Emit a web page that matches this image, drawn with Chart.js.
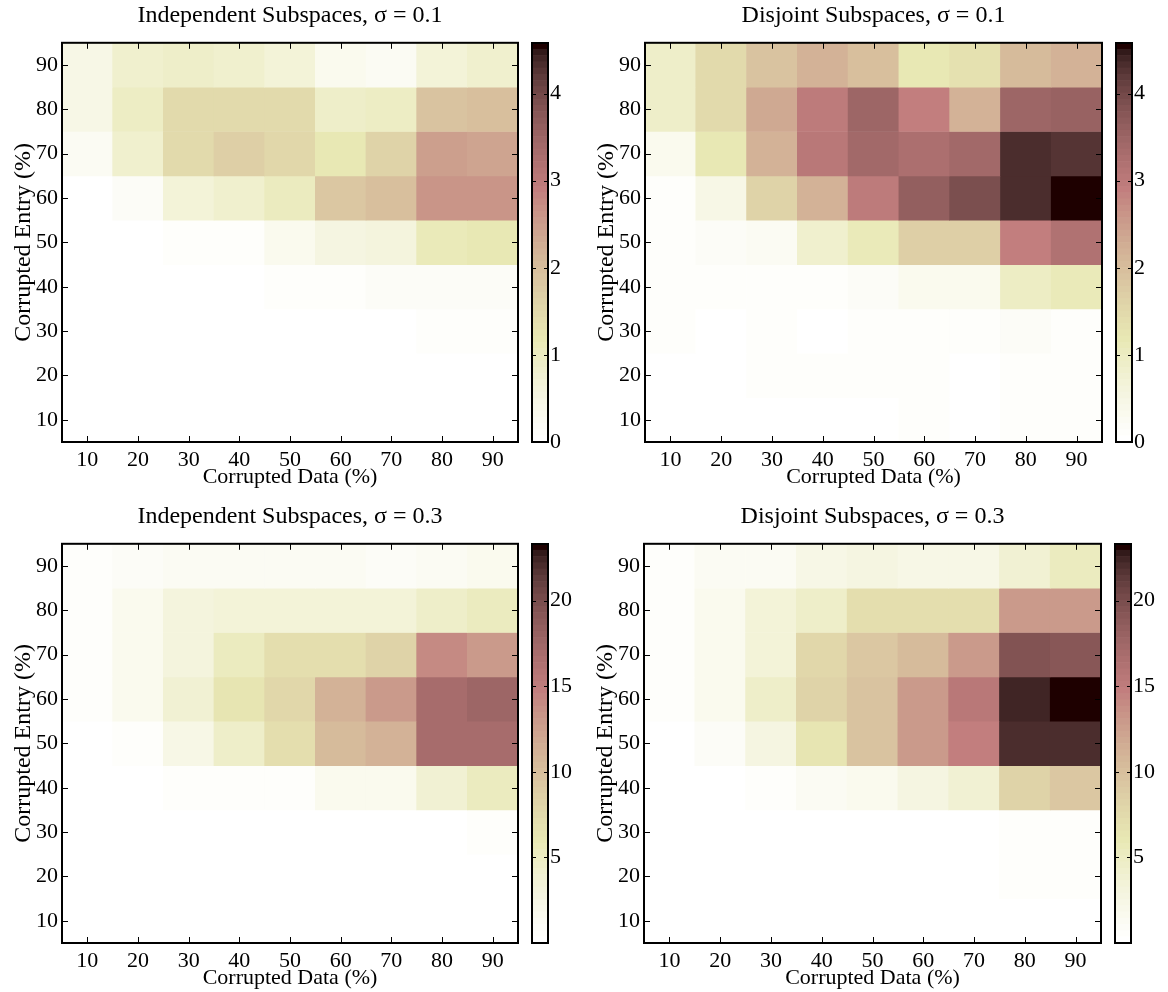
<!DOCTYPE html>
<html>
<head>
<meta charset="utf-8">
<script src="https://cdn.jsdelivr.net/npm/chart.js@4.4.0/dist/chart.umd.min.js"></script>
<style>
  body { margin: 0; background: #fff; }
  #wrap { position: relative; width: 1168px; height: 992px; }
  canvas { position: absolute; }
</style>
</head>
<body>
<div id="wrap"></div>
<script>
// Ejes: columnas = datos corruptos, filas = entradas corruptas (de arriba a abajo)
const corruptedData = ["10", "20", "30", "40", "50", "60", "70", "80", "90"];
const corruptedEntry = [90, 80, 70, 60, 50, 40, 30, 20, 10];
const entryTicks = [10, 20, 30, 40, 50, 60, 70, 80, 90];

// Escalas de color compartidas por fila de paneles
const rangeS01 = [0, 4.58];
const rangeS03 = [0, 23.3];
const cbarTicksS01 = [0, 1, 2, 3, 4];
const cbarTicksS03 = [5, 10, 15, 20];

// Error por celda, fila 90 arriba ... fila 10 abajo
const indepS01 = [
  [0.45, 0.8, 0.9, 0.8, 0.7, 0.3, 0.22, 0.7, 0.8],
  [0.45, 1.0, 1.5, 1.5, 1.5, 0.9, 1.0, 1.9, 1.95],
  [0.25, 0.8, 1.5, 1.7, 1.55, 1.15, 1.6, 2.45, 2.4],
  [0, 0.2, 0.7, 0.8, 1.05, 1.85, 1.95, 2.6, 2.6],
  [0, 0, 0.1, 0.13, 0.35, 0.55, 0.6, 1.1, 1.2],
  [0, 0, 0, 0, 0.12, 0.1, 0.15, 0.2, 0.2],
  [0, 0, 0, 0, 0, 0, 0, 0.1, 0.1],
  [0, 0, 0, 0, 0, 0, 0, 0, 0],
  [0, 0, 0, 0, 0, 0, 0, 0, 0]
];
const disjS01 = [
  [0.9, 1.45, 1.9, 2.2, 1.95, 1.2, 1.35, 2.05, 2.2],
  [0.9, 1.5, 2.3, 3.0, 3.45, 2.9, 2.2, 3.5, 3.55],
  [0.35, 1.15, 2.2, 3.05, 3.4, 3.25, 3.4, 4.35, 4.25],
  [0.12, 0.45, 1.6, 2.2, 2.95, 3.6, 3.9, 4.3, 4.58],
  [0.08, 0.18, 0.22, 0.8, 1.1, 1.7, 1.7, 2.9, 3.2],
  [0.08, 0.08, 0.1, 0.1, 0.15, 0.3, 0.3, 1.0, 1.1],
  [0.1, 0, 0.08, 0, 0.08, 0.08, 0.08, 0.18, 0.12],
  [0, 0, 0.08, 0.08, 0.08, 0.08, 0, 0.12, 0.12],
  [0, 0, 0, 0, 0, 0.08, 0, 0.1, 0.08]
];
const indepS03 = [
  [0.7, 0.9, 1.1, 1.4, 1.4, 1.4, 1.0, 1.4, 1.8],
  [0.7, 1.6, 3.0, 3.3, 3.3, 3.3, 3.3, 4.7, 5.1],
  [0.7, 1.8, 3.2, 5.1, 7.0, 7.0, 8.2, 14.0, 12.8],
  [0.7, 1.6, 4.0, 6.5, 7.7, 11.0, 12.8, 17.0, 17.5],
  [0, 0.7, 2.3, 4.7, 7.0, 10.5, 11.2, 17.0, 17.0],
  [0, 0, 0.5, 0.5, 0.7, 1.6, 1.8, 4.0, 5.1],
  [0, 0, 0, 0, 0, 0, 0, 0, 0.4],
  [0, 0, 0, 0, 0, 0, 0, 0, 0],
  [0, 0, 0, 0, 0, 0, 0, 0, 0]
];
const disjS03 = [
  [0.7, 1.1, 1.4, 2.3, 2.8, 2.3, 2.3, 4.0, 5.1],
  [0.7, 1.6, 3.5, 4.7, 7.0, 7.0, 7.0, 12.8, 12.8],
  [0.7, 1.8, 3.5, 7.7, 9.3, 10.5, 12.8, 19.6, 19.0],
  [0.7, 1.8, 4.7, 8.2, 9.8, 12.8, 15.6, 22.4, 23.3],
  [0, 0.9, 2.8, 6.3, 9.8, 12.8, 14.7, 22.0, 22.0],
  [0, 0, 0.5, 1.1, 1.8, 2.8, 4.0, 8.2, 9.3],
  [0, 0, 0, 0, 0, 0, 0, 0.6, 0.6],
  [0, 0, 0, 0, 0, 0, 0, 0.5, 0.5],
  [0, 0, 0, 0, 0, 0, 0, 0, 0]
];

// Mapa de color "pink" de 64 niveles, invertido (0 = blanco)
const NIV = 64;
function pinkMap() {
  const n = 24, out = [];
  for (let i = 0; i < NIV; i++) {
    const g = i / (NIV - 1);
    const hr = i < n ? (i + 1) / n : 1;
    const hg = i < n ? 0 : (i < 2 * n ? (i - n + 1) / n : 1);
    const hb = i < 2 * n ? 0 : (i - 2 * n + 1) / (NIV - 2 * n);
    const c = [hr, hg, hb].map(h => Math.round(255 * Math.sqrt((2 * g + h) / 3)));
    out.push(`rgb(${c[0]},${c[1]},${c[2]})`);
  }
  return out.reverse();
}
const colores = pinkMap();

function colorDe(v, rango) {
  let idx = Math.floor((v - rango[0]) / (rango[1] - rango[0]) * NIV);
  idx = Math.max(0, Math.min(NIV - 1, idx));
  return colores[idx];
}

Chart.defaults.font.family = '"Liberation Serif", "Times New Roman", serif';
Chart.defaults.font.size = 22;
Chart.defaults.color = '#000';

// Ticks hacia adentro y marco negro del area del grafico
const ticksAdentro = {
  id: 'ticksAdentro',
  afterDatasetsDraw(chart, args, opts) {
    const { ctx, chartArea: a, scales } = chart;
    const len = opts.len || 5;
    ctx.save();
    ctx.strokeStyle = '#000';
    ctx.lineWidth = 1;
    ctx.beginPath();
    if (opts.x) {
      scales.x.ticks.forEach((t, i) => {
        const px = Math.round(scales.x.getPixelForTick(i)) + 0.5;
        ctx.moveTo(px, a.bottom); ctx.lineTo(px, a.bottom - len);
        ctx.moveTo(px, a.top); ctx.lineTo(px, a.top + len);
      });
    }
    scales.y.ticks.forEach(t => {
      const py = Math.round(scales.y.getPixelForValue(t.value)) + 0.5;
      ctx.moveTo(a.left, py); ctx.lineTo(a.left + len, py);
      ctx.moveTo(a.right, py); ctx.lineTo(a.right - len, py);
    });
    ctx.stroke();
    ctx.lineWidth = opts.box || 2;
    ctx.strokeRect(a.left, a.top, a.right - a.left, a.bottom - a.top);
    ctx.restore();
  }
};

const wrap = document.getElementById('wrap');
function nuevoCanvas(left, top, w, h) {
  const c = document.createElement('canvas');
  c.width = w; c.height = h;
  c.style.left = left + 'px'; c.style.top = top + 'px';
  wrap.appendChild(c);
  return c;
}

// Mapa de calor: una barra flotante por celda
function heatmap(titulo, valores, rango, plot) {
  const m = plot.l;                    // margen izquierdo = margen derecho, asi el titulo queda centrado
  const w = m + (plot.r - plot.l) + m;
  const h = 43 + (plot.b - plot.t) + 48;
  const cv = nuevoCanvas(plot.x0, plot.t - 43, w, h);
  const datasets = corruptedEntry.map((fila, j) => ({
    data: corruptedData.map(() => [fila - 5, fila + 5]),
    backgroundColor: ctx => colorDe(valores[j][ctx.dataIndex], rango),
    borderWidth: 0,
    grouped: false,
    barPercentage: 1,
    categoryPercentage: 1
  }));
  return new Chart(cv, {
    type: 'bar',
    data: { labels: corruptedData, datasets: datasets },
    plugins: [ticksAdentro],
    options: {
      responsive: false,
      animation: false,
      layout: { padding: 0 },
      plugins: {
        legend: { display: false },
        tooltip: { enabled: false },
        title: {
          display: true, text: titulo,
          font: { size: 24, weight: 'normal' },
          padding: { top: 1, bottom: 13 }
        },
        ticksAdentro: { x: true, len: 6, box: 2 }
      },
      scales: {
        x: {
          type: 'category', offset: true,
          grid: { display: false, drawTicks: false },
          border: { display: false },
          ticks: { padding: 5, maxRotation: 0, autoSkip: false },
          title: { display: true, text: 'Corrupted Data (%)', padding: 0 },
          afterFit: s => { s.height = 48; }
        },
        y: {
          type: 'linear', min: 5, max: 95,
          grid: { display: false, drawTicks: false },
          border: { display: false },
          ticks: { padding: 4 },
          afterBuildTicks: s => { s.ticks = entryTicks.map(v => ({ value: v })); },
          title: { display: true, text: 'Corrupted Entry (%)', font: { size: 24 }, padding: { top: 9, bottom: 0 } },
          afterFit: s => { s.width = m; }
        },
        // eje vacio a la derecha, solo reserva espacio
        margen: {
          type: 'linear', position: 'right',
          grid: { display: false, drawTicks: false },
          border: { display: false },
          ticks: { display: false },
          afterFit: s => { s.width = m; }
        }
      }
    }
  });
}

// Barra de colores: 64 bandas apiladas en una sola columna
function colorbar(rango, marcas, cb) {
  const cv = nuevoCanvas(cb.l - 20, cb.t - 20, 20 + (cb.r - cb.l) + 40, 20 + (cb.b - cb.t) + 20);
  const paso = (rango[1] - rango[0]) / NIV;
  const datasets = colores.map((c, i) => ({
    data: [[rango[0] + i * paso, rango[0] + (i + 1) * paso]],
    backgroundColor: c,
    borderWidth: 0,
    grouped: false,
    barPercentage: 1,
    categoryPercentage: 1
  }));
  return new Chart(cv, {
    type: 'bar',
    data: { labels: [''], datasets: datasets },
    plugins: [ticksAdentro],
    options: {
      responsive: false,
      animation: false,
      layout: { padding: { left: 20, right: 0, top: 20, bottom: 20 } },
      plugins: {
        legend: { display: false },
        tooltip: { enabled: false },
        ticksAdentro: { x: false, len: 4, box: 2 }
      },
      scales: {
        x: { display: false },
        y: {
          position: 'right', min: rango[0], max: rango[1],
          grid: { display: false, drawTicks: false },
          border: { display: false },
          ticks: { padding: 2 },
          afterBuildTicks: s => { s.ticks = marcas.map(v => ({ value: v })); },
          afterFit: s => { s.width = 40; }
        }
      }
    }
  });
}

heatmap('Independent Subspaces, \u03c3 = 0.1', indepS01, rangeS01, { x0: 0, l: 62, r: 518, t: 43, b: 442 });
colorbar(rangeS01, cbarTicksS01, { l: 532, r: 548, t: 43, b: 442 });

heatmap('Disjoint Subspaces, \u03c3 = 0.1', disjS01, rangeS01, { x0: 583, l: 62, r: 519, t: 43, b: 442 });
colorbar(rangeS01, cbarTicksS01, { l: 1116, r: 1132, t: 43, b: 442 });

heatmap('Independent Subspaces, \u03c3 = 0.3', indepS03, rangeS03, { x0: 0, l: 62, r: 518, t: 544, b: 943 });
colorbar(rangeS03, cbarTicksS03, { l: 532, r: 548, t: 544, b: 943 });

heatmap('Disjoint Subspaces, \u03c3 = 0.3', disjS03, rangeS03, { x0: 582, l: 62, r: 519, t: 544, b: 943 });
colorbar(rangeS03, cbarTicksS03, { l: 1115, r: 1131, t: 544, b: 943 });
</script>
</body>
</html>
